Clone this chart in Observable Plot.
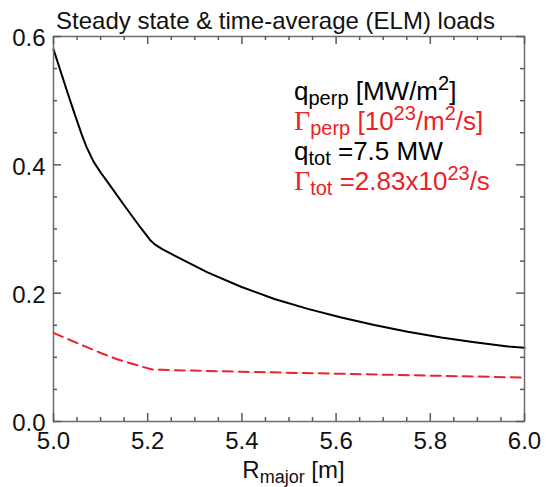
<!DOCTYPE html>
<html><head><meta charset="utf-8">
<script src="https://cdn.jsdelivr.net/npm/d3@7"></script>
<script src="https://cdn.jsdelivr.net/npm/@observablehq/plot@0.6"></script>
<style>
body{margin:0;background:#fff}
svg text{font-family:"Liberation Sans",Arial,Helvetica,sans-serif}
</style>
</head><body><div id="chart"></div>
<script>
// q_perp [MW/m^2] (solid black)
const rQ    = [5.000,5.015,5.030,5.045,5.060,5.070,5.085,5.100,5.115,5.150,5.185,5.205,5.215,5.230,5.256,5.327,5.398,5.469,5.540,5.611,5.681,5.752,5.823,5.894,5.965,6.000];
const qPerp = [0.580,0.546,0.512,0.479,0.447,0.428,0.405,0.388,0.373,0.337,0.302,0.283,0.276,0.269,0.259,0.2325,0.210,0.191,0.1755,0.162,0.1505,0.140,0.131,0.1235,0.117,0.1148];
// Gamma_perp [1e23/m^2/s] (dashed red)
const rG    = [5.000,5.035,5.067,5.103,5.135,5.167,5.195,5.210,5.230,5.400,5.600,5.800,6.000];
const gPerp = [0.138,0.127,0.117,0.106,0.097,0.090,0.084,0.081,0.0805,0.0775,0.0745,0.0715,0.0685];

const xTicks = [5.0,5.2,5.4,5.6,5.8,6.0];
const xMinor = [5.05,5.1,5.15,5.25,5.3,5.35,5.45,5.5,5.55,5.65,5.7,5.75,5.85,5.9,5.95];
const yTicks = [0.0,0.2,0.4,0.6];
const yMinor = [0.05,0.1,0.15,0.25,0.3,0.35,0.45,0.5,0.55];

const titleText = "Steady state & time-average (ELM) loads";
const qColor = "#000000";
const gColor = "#ec2227";
const frameColor = "#6e6e6e";
const tickColor = "#5a5a5a";

const W = 546, H = 487, mL = 53, mR = 22, mT = 36, mB = 66;
const plotW = W - mL - mR, plotH = H - mT - mB;
const xDom = [5, 6], yDom = [0, 0.6];
// pixel tick length converted to data units
const dy = px => px * (yDom[1]-yDom[0]) / plotH;
const dx = px => px * (xDom[1]-xDom[0]) / plotW;

const qData = rQ.map((r,i)=>({r, v:qPerp[i]}));
const gData = rG.map((r,i)=>({r, v:gPerp[i]}));

const tickStyle = {stroke:tickColor, strokeWidth:1.5};
function sideTicks(data, side, len){
  if (side === "bottom") return Plot.ruleX(data, {...tickStyle, x:d=>d, y1:yDom[0], y2:yDom[0]+dy(len)});
  if (side === "top")    return Plot.ruleX(data, {...tickStyle, x:d=>d, y1:yDom[1]-dy(len), y2:yDom[1]});
  if (side === "left")   return Plot.ruleY(data, {...tickStyle, y:d=>d, x1:xDom[0], x2:xDom[0]+dx(len)});
  return Plot.ruleY(data, {...tickStyle, y:d=>d, x1:xDom[1]-dx(len), x2:xDom[1]});
}

const plot = Plot.plot({
  width:W, height:H,
  marginLeft:mL, marginRight:mR, marginTop:mT, marginBottom:mB,
  x:{domain:xDom},
  y:{domain:yDom},
  style:{background:"#fff", overflow:"visible"},
  marks:[
    Plot.axisX(xTicks, {anchor:"bottom", tickSize:0, tickPadding:10, fontSize:24, fill:"#111", label:null, tickFormat:d3.format(".1f")}),
    Plot.axisY(yTicks, {anchor:"left", tickSize:0, tickPadding:8, fontSize:24, fill:"#111", dy:2, label:null, tickFormat:d3.format(".1f")}),
    Plot.line(gData, {x:"r", y:"v", stroke:gColor, strokeWidth:2, strokeDasharray:"10,6"}),
    Plot.line(qData, {x:"r", y:"v", stroke:qColor, strokeWidth:2, curve:"linear"}),
    Plot.frame({stroke:frameColor, strokeWidth:1.5}),
    sideTicks(xTicks,"bottom",8), sideTicks(xMinor,"bottom",4),
    sideTicks(xTicks,"top",8),    sideTicks(xMinor,"top",4),
    sideTicks(yTicks,"left",8),   sideTicks(yMinor,"left",4),
    sideTicks(yTicks,"right",8),  sideTicks(yMinor,"right",4)
  ]
});

const svg = d3.select(plot);
const xr = plot.scale("x").range;
const cx = (xr[0]+xr[1])/2;

// Title
svg.append("text").attr("x", cx-13).attr("y", 29).attr("text-anchor","middle")
  .attr("font-size", 24).attr("fill","#111").text(titleText);

// X axis label with subscript
const xl = svg.append("text").attr("x", cx+5).attr("y", 478).attr("text-anchor","middle").attr("font-size",24).attr("fill","#111");
xl.append("tspan").text("R");
xl.append("tspan").attr("font-size",18).attr("dy",5).text("major");
xl.append("tspan").attr("dy",-5).text(" [m]");

// Legend text
const lx = 294;
const serif = '"Liberation Serif","DejaVu Serif",serif';
function legendLine(y, color, parts){
  const t = svg.append("text").attr("x", lx).attr("y", y).attr("text-anchor","start").attr("font-size", 26).attr("fill", color);
  let shift = 0;
  for (const p of parts){
    const s = t.append("tspan").text(p.t);
    const target = p.sub ? 5 : p.sup ? -10 : 0;
    s.attr("dy", target - shift); shift = target;
    if (p.sub || p.sup) s.attr("font-size", 20);
    if (p.serif) s.style("font-family", serif).attr("font-size", 28);
  }
}
legendLine(100, qColor, [{t:"q"},{t:"perp",sub:true},{t:" [MW/m"},{t:"2",sup:true},{t:"]"}]);
legendLine(130, gColor, [{t:"Γ",serif:true},{t:"perp",sub:true},{t:" [10"},{t:"23",sup:true},{t:"/m"},{t:"2",sup:true},{t:"/s]"}]);
legendLine(160, qColor, [{t:"q"},{t:"tot",sub:true},{t:" =7.5 MW"}]);
legendLine(190, gColor, [{t:"Γ",serif:true},{t:"tot",sub:true},{t:" =2.83x10"},{t:"23",sup:true},{t:"/s"}]);

document.getElementById("chart").appendChild(plot);
</script>
</body></html>
